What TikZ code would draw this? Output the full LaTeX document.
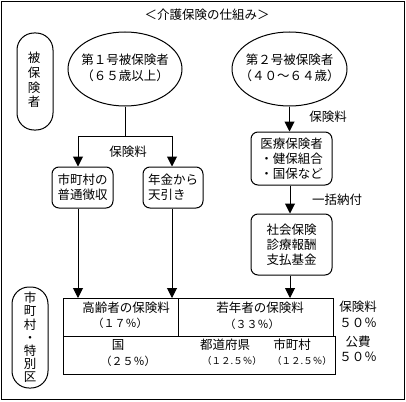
\documentclass[tikz,border=0pt]{standalone}
\usepackage{fontspec}
\setmainfont{Noto Sans CJK JP}
\usetikzlibrary{arrows.meta,shapes.geometric}
\begin{document}
\begin{tikzpicture}[x=1pt,y=-1pt,line width=1pt,
  arr/.style={-{Triangle[width=10pt,length=10pt]}},
  txt/.style={font=\fontsize{12.5}{15.5}\selectfont,inner sep=0pt,align=center},
  small/.style={font=\fontsize{11}{12}\selectfont,inner sep=0pt},
  tiny/.style={font=\fontsize{9.5}{10}\selectfont,inner sep=0pt},
  box/.style={draw,rounded corners=7pt,inner sep=0pt,font=\fontsize{12.5}{15}\selectfont},
  pill/.style={draw,rounded corners=17pt,inner sep=0pt},
  oval/.style={draw,ellipse,inner sep=0pt},
  cell/.style={draw,inner sep=0pt,anchor=north west},
]
\useasboundingbox (0,0) rectangle (406,401);
\node[draw,inner sep=0pt,minimum width=403pt,minimum height=398pt] (frame) at (203,200.5) {};
\node[txt] (title) at (207,15) {＜介護保険の仕組み＞};
% left pills
\node[pill,minimum width=36pt,minimum height=97pt] (p1) at (35,81.5) {};
\node[font=\fontsize{12.5}{14.7}\selectfont,inner sep=0pt,align=center] (p1t) at (34,80) {被\\保\\険\\者};
\node[pill,minimum width=36pt,minimum height=101pt] (p2) at (30,337.5) {};
\node[font=\fontsize{12.5}{13.2}\selectfont,inner sep=0pt,align=center] (p2t) at (30,337.5) {市\\町\\村\\・\\特\\別\\区};
% ellipses
\node[oval,minimum width=114pt,minimum height=74pt] (e1) at (125,69) {};
\node[txt] (e1t) at (125,68) {第１号被保険者\\（６５歳以上）};
\node[oval,minimum width=115pt,minimum height=74pt] (e2) at (289.5,69) {};
\node[txt] (e2t) at (289.5,68) {第２号被保険者\\（４０～６４歳）};
% boxes
\node[box,minimum width=61pt,minimum height=41pt,align=center] (b1) at (82.5,187.5) {市町村の\\普通徴収};
\node[box,minimum width=60pt,minimum height=41pt,align=left] (b2) at (173,187.5) {年金から\\天引き};
\node[box,minimum width=81pt,minimum height=53pt,align=left] (b3) at (291.5,158.5) {医療保険者\\・健保組合\\・国保など};
\node[box,minimum width=81pt,minimum height=61pt,align=center] (b4) at (291.5,244.5) {社会保険\\診療報酬\\支払基金};
% labels
\node[txt] (l1) at (128,152) {保険料};
\node[txt] (l2) at (328,117) {保険料};
\node[txt] (l3) at (337,200) {一括納付};
% table
\node[cell,minimum width=115pt,minimum height=38pt] (c1) at (63,298) {};
\node[cell,minimum width=155pt,minimum height=38pt] (c2) at (178,298) {};
\node[cell,minimum width=272pt,minimum height=38pt] (c3) at (63,336) {};
\node[txt] (c1a) at (126,308) {高齢者の保険料};
\node[small] (c1b) at (120,323) {（１７％）};
\node[txt] (c2a) at (260,308) {若年者の保険料};
\node[small] (c2b) at (252,324) {（３３％）};
\node[txt] (c3a) at (118,345) {国};
\node[small] (c3b) at (128,361) {（２５％）};
\node[txt] (c3c) at (225,345) {都道府県};
\node[tiny] (c3d) at (232,361) {（１２.５％）};
\node[txt] (c3e) at (292,345) {市町村};
\node[tiny] (c3f) at (302,361) {（１２.５％）};
\node[txt] (r1) at (358,314.5) {保険料\\５０％};
\node[txt] (r2) at (358,349) {公費\\５０％};
% connectors
\coordinate (j1) at (125,136);
\coordinate (t1) at (78,298);
\coordinate (t2) at (172,298);
\coordinate (t3) at (290,298);
\draw (e1.south) -- (j1);
\draw[arr] (j1) -| ([xshift=-4.5pt]b1.north);
\draw[arr] (j1) -| ([xshift=-1pt]b2.north);
\draw[arr] (e2.south) -- (e2.south |- b3.north);
\draw[arr] ([xshift=-1.5pt]b3.south) -- ([xshift=-1.5pt]b4.north);
\draw[arr] (t1 |- b1.south) -- (t1);
\draw[arr] (t2 |- b2.south) -- (t2);
\draw[arr] (t3 |- b4.south) -- (t3);
\end{tikzpicture}
\end{document}
